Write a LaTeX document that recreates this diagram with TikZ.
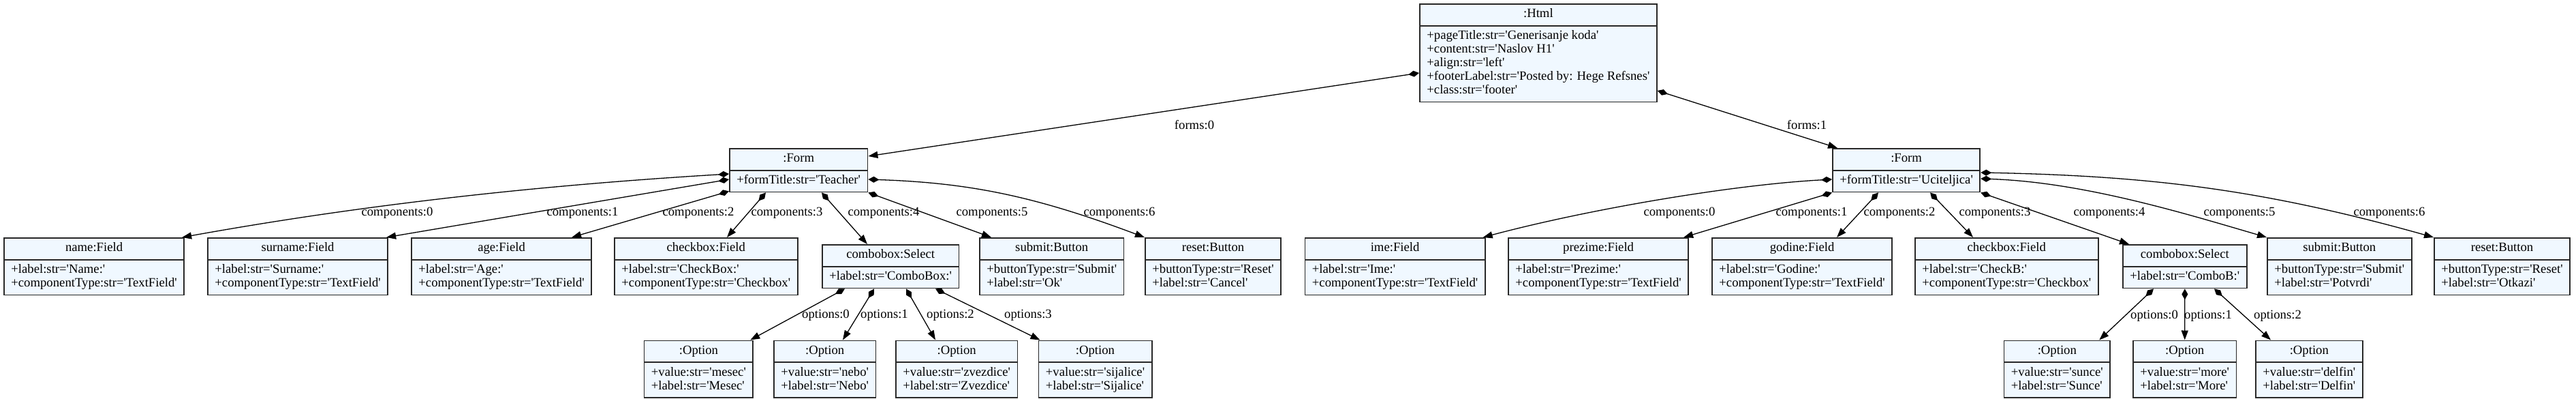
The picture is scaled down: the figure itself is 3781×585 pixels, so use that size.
\documentclass[tikz,border=0pt]{standalone}
\usepackage{fontspec}
\setmainfont{Liberation Serif}[Ligatures=TeXOff]
\usetikzlibrary{shapes.multipart,arrows.meta,calc}
\definecolor{boxfill}{RGB}{240,248,255}
\definecolor{boxline}{RGB}{40,40,40}
\newcommand\gvfont{\fontsize{18.7}{20}\selectfont}
\tikzset{
  obj/.style={rectangle split, rectangle split parts=2, draw=boxline, line width=1.8pt,
    fill=boxfill, inner xsep=10.5pt, inner ysep=5pt, anchor=north west, align=left,
    rectangle split part align={center,left}, font=\gvfont},
  lbl/.style={font=\gvfont, inner sep=0pt},
  comp/.style={line width=1.3pt, {Diamond[length=16pt,width=9pt]}-{Triangle[length=14pt,width=10pt]}},
}
\begin{document}
\begin{tikzpicture}[x=1pt,y=-1pt]
\fill[white] (0,0) rectangle (3781,585);
\useasboundingbox (0,0) rectangle (3781,585);

% root
\node[obj] (html) at (2083,5) {\strut:Html\nodepart{two}\strut+pageTitle:str='Generisanje koda'\\\strut+content:str='Naslov H1'\\\strut+align:str='left'\\\strut+footerLabel:str='Posted by: Hege Refsnes'\\\strut+class:str='footer'};

% forms
\node[obj] (f1) at (1070,217) {\strut:Form\nodepart{two}\strut+formTitle:str='Teacher'};
\node[obj] (f2) at (2689,217) {\strut:Form\nodepart{two}\strut+formTitle:str='Uciteljica'};

% left components
\node[obj] (name) at (5,348) {\strut name:Field\nodepart{two}\strut+label:str='Name:'\\\strut+componentType:str='TextField'};
\node[obj] (surname) at (304,348) {\strut surname:Field\nodepart{two}\strut+label:str='Surname:'\\\strut+componentType:str='TextField'};
\node[obj] (age) at (603,348) {\strut age:Field\nodepart{two}\strut+label:str='Age:'\\\strut+componentType:str='TextField'};
\node[obj] (chk1) at (901,348) {\strut checkbox:Field\nodepart{two}\strut+label:str='CheckBox:'\\\strut+componentType:str='Checkbox'};
\node[obj] (cb1) at (1206,358) {\strut combobox:Select\nodepart{two}\strut+label:str='ComboBox:'};
\node[obj] (sub1) at (1437,348) {\strut submit:Button\nodepart{two}\strut+buttonType:str='Submit'\\\strut+label:str='Ok'};
\node[obj] (res1) at (1680,348) {\strut reset:Button\nodepart{two}\strut+buttonType:str='Reset'\\\strut+label:str='Cancel'};

% left options
\node[obj] (o10) at (944.5,498.5) {\strut:Option\nodepart{two}\strut+value:str='mesec'\\\strut+label:str='Mesec'};
\node[obj] (o11) at (1135,498.5) {\strut:Option\nodepart{two}\strut+value:str='nebo'\\\strut+label:str='Nebo'};
\node[obj] (o12) at (1314,498.5) {\strut:Option\nodepart{two}\strut+value:str='zvezdice'\\\strut+label:str='Zvezdice'};
\node[obj] (o13) at (1523.5,498.5) {\strut:Option\nodepart{two}\strut+value:str='sijalice'\\\strut+label:str='Sijalice'};

% right components
\node[obj] (ime) at (1914.5,348) {\strut ime:Field\nodepart{two}\strut+label:str='Ime:'\\\strut+componentType:str='TextField'};
\node[obj] (prez) at (2213,348) {\strut prezime:Field\nodepart{two}\strut+label:str='Prezime:'\\\strut+componentType:str='TextField'};
\node[obj] (god) at (2512,348) {\strut godine:Field\nodepart{two}\strut+label:str='Godine:'\\\strut+componentType:str='TextField'};
\node[obj] (chk2) at (2810,348) {\strut checkbox:Field\nodepart{two}\strut+label:str='CheckB:'\\\strut+componentType:str='Checkbox'};
\node[obj] (cb2) at (3115,358) {\strut combobox:Select\nodepart{two}\strut+label:str='ComboB:'};
\node[obj] (sub2) at (3327,348) {\strut submit:Button\nodepart{two}\strut+buttonType:str='Submit'\\\strut+label:str='Potvrdi'};
\node[obj] (res2) at (3572,348) {\strut reset:Button\nodepart{two}\strut+buttonType:str='Reset'\\\strut+label:str='Otkazi'};

% right options
\node[obj] (o20) at (2940.5,498.5) {\strut:Option\nodepart{two}\strut+value:str='sunce'\\\strut+label:str='Sunce'};
\node[obj] (o21) at (3130,498.5) {\strut:Option\nodepart{two}\strut+value:str='more'\\\strut+label:str='More'};
\node[obj] (o22) at (3310,498.5) {\strut:Option\nodepart{two}\strut+value:str='delfin'\\\strut+label:str='Delfin'};

% edges: root
\draw[comp] ($(html.north west)+(0,102)$) -- ($(f1.north east)+(0,12)$);
\draw[comp] ($(html.north east)+(0,128)$) -- ($(f2.north west)+(8,0)$);
\node[lbl] (lf0) at (1753,183) {forms:0};
\node[lbl] (lf1) at (2652,183) {forms:1};

% edges: left form
\draw[comp] ($(f1.north west)+(0,38)$) .. controls +(-300,18) and +(250,-45) .. ($(name.north east)+(-4,0)$);
\draw[comp] ($(f1.north west)+(0,46)$) -- ($(surname.north east)+(-3,0)$);
\draw[comp] ($(f1.south west)+(0,-2)$) -- ($(age.north east)+(-30,0)$);
\draw[comp] ($(f1.south west)+(54,0)$) -- ($(chk1.north west)+(166,0)$);
\draw[comp] ($(f1.south west)+(136,0)$) -- ($(cb1.north west)+(67,0)$);
\draw[comp] (f1.south east) -- ($(sub1.north west)+(18,0)$);
\draw[comp] ($(f1.north east)+(0,46)$) .. controls +(150,5) and +(-160,-60) .. (res1.north west);
\node[lbl] (la0) at (583,312) {components:0};
\node[lbl] (la1) at (855,312) {components:1};
\node[lbl] (la2) at (1025,312) {components:2};
\node[lbl] (la3) at (1155,312) {components:3};
\node[lbl] (la4) at (1297,312) {components:4};
\node[lbl] (la5) at (1456,312) {components:5};
\node[lbl] (la6) at (1643,312) {components:6};

% edges: left options
\draw[comp] ($(cb1.south west)+(34,0)$) -- ($(o10.north east)+(-5,0)$);
\draw[comp] ($(cb1.south west)+(77,0)$) -- ($(o11.north west)+(102,0)$);
\draw[comp] ($(cb1.south west)+(124,0)$) -- ($(o12.north west)+(59,0)$);
\draw[comp] ($(cb1.south west)+(167,0)$) -- ($(o13.north west)+(3,0)$);
\node[lbl] (lo0) at (1212,462) {options:0};
\node[lbl] (lo1) at (1298,462) {options:1};
\node[lbl] (lo2) at (1395,462) {options:2};
\node[lbl] (lo3) at (1509,462) {options:3};

% edges: right form
\draw[comp] ($(f2.north west)+(0,46)$) .. controls +(-150,8) and +(150,-40) .. ($(ime.north east)+(-4,0)$);
\draw[comp] (f2.south west) -- ($(prez.north east)+(-8,0)$);
\draw[comp] ($(f2.south west)+(68,0)$) -- ($(god.north west)+(184,0)$);
\draw[comp] ($(f2.south west)+(144,0)$) -- ($(chk2.north west)+(86,0)$);
\draw[comp] (f2.south east) -- ($(cb2.north west)+(10,0)$);
\draw[comp] ($(f2.north east)+(0,45)$) .. controls +(150,5) and +(-120,-35) .. (sub2.north west);
\draw[comp] ($(f2.north east)+(0,36)$) .. controls +(250,5) and +(-250,-70) .. (res2.north west);
\node[lbl] (lb0) at (2465,312) {components:0};
\node[lbl] (lb1) at (2659,312) {components:1};
\node[lbl] (lb2) at (2788,312) {components:2};
\node[lbl] (lb3) at (2928,312) {components:3};
\node[lbl] (lb4) at (3096,312) {components:4};
\node[lbl] (lb5) at (3287,312) {components:5};
\node[lbl] (lb6) at (3507,312) {components:6};

% edges: right options
\draw[comp] ($(cb2.south west)+(46,0)$) -- ($(o20.north)+(62,0)$);
\draw[comp] (cb2.south) -- (o21.north);
\draw[comp] ($(cb2.south west)+(135,0)$) -- ($(o22.north west)+(23,0)$);
\node[lbl] (lp0) at (3162,463) {options:0};
\node[lbl] (lp1) at (3241,463) {options:1};
\node[lbl] (lp2) at (3343,463) {options:2};
\end{tikzpicture}
\end{document}
